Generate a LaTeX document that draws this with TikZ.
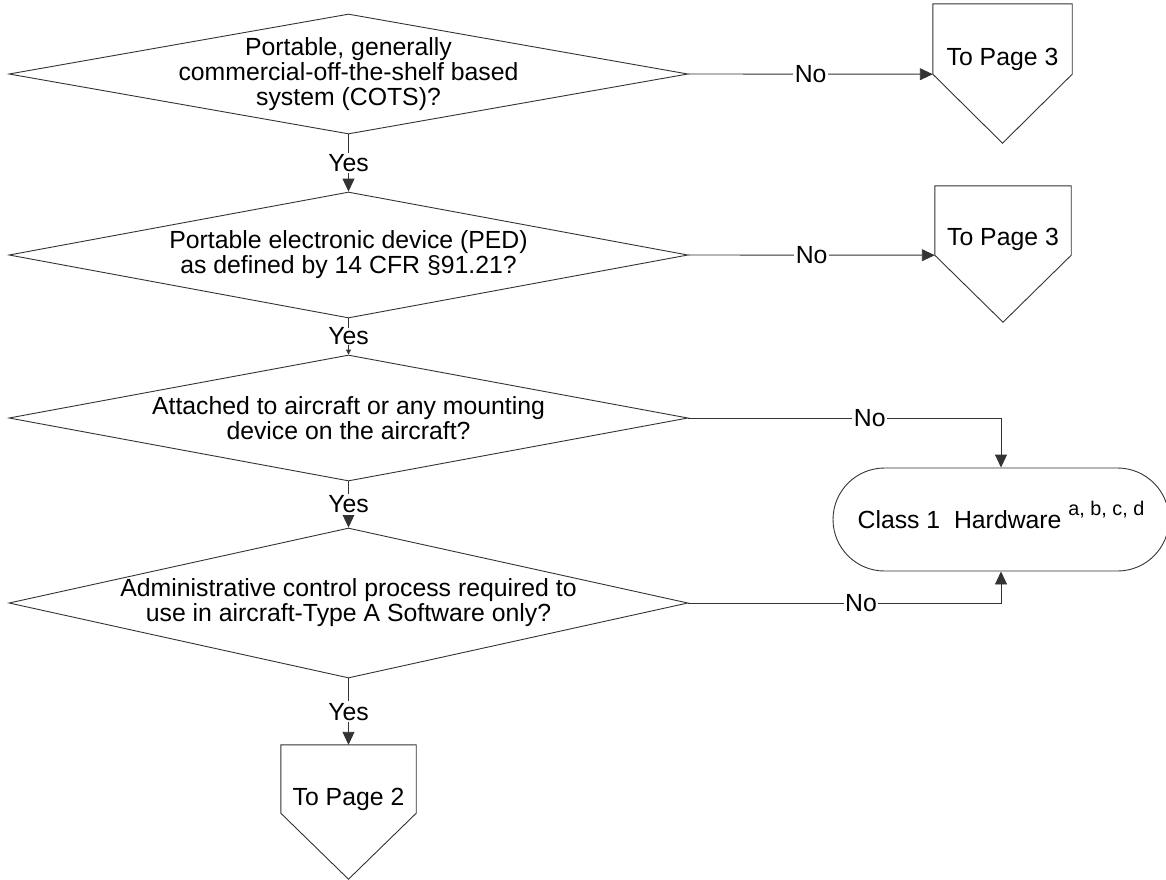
\documentclass[tikz,border=0pt]{standalone}
\usepackage{fontspec}
\setmainfont{Liberation Sans}
\usetikzlibrary{shapes.geometric,arrows.meta,calc}
\begin{document}
\begin{tikzpicture}[x=1pt,y=-1pt,
  every node/.style={font=\fontsize{24.8}{25}\selectfont, text=black},
  decision/.style={draw=black!80, line width=0.9pt, shape=diamond, minimum width=679pt, minimum height=#1, inner sep=0pt},
  qtext/.style={align=center, inner sep=0pt},
  pagebox/.style={rectangle, inner sep=0pt, minimum width=#1},
  outline/.style={draw=black!80, line width=0.9pt},
  lbl/.style={fill=white, inner sep=1.5pt},
  conn/.style={draw=black!80, line width=0.9pt, -{Triangle[length=13pt,width=12pt]}},
  smallconn/.style={draw=black!80, line width=0.9pt, -{Triangle[length=5pt,width=5pt]}},
  terminal/.style={draw=black!80, line width=0.9pt, rectangle, rounded corners=51.5pt, minimum width=336pt, minimum height=103pt, text height=18pt, text depth=0pt}
]
\useasboundingbox (0,0) rectangle (1166,879);

% decisions
\node[decision=120pt] (d1) at (348.5,74) {};
\node[qtext] (d1t) at (d1.center) {Portable, generally\\commercial-off-the-shelf based\\system (COTS)?};
\node[decision=126pt] (d2) at (348.5,255) {};
\node[qtext] (d2t) at (d2.center) {Portable electronic device (PED)\\as defined by 14 CFR §91.21?};
\node[decision=126pt] (d3) at (348.5,418) {};
\node[qtext] (d3t) at (d3.center) {Attached to aircraft or any mounting\\device on the aircraft?};
\node[decision=150pt] (d4) at (348.5,603) {};
\node[qtext] (d4t) at (d4.center) {Administrative control process required to\\use in aircraft-Type A Software only?};

% off-page connectors
\node[pagebox=139pt, minimum height=70pt] (p1) at (1002.5,39) {};
\draw[outline] (p1.south west) -- (p1.north west) -- (p1.north east) -- (p1.south east) -- ($(p1.south)+(0,69)$) -- cycle;
\node[anchor=base, inner sep=0pt] (p1t) at (1002.5,65) {To Page 3};

\node[pagebox=136pt, minimum height=69pt] (p2) at (1003,220.5) {};
\draw[outline] (p2.south west) -- (p2.north west) -- (p2.north east) -- (p2.south east) -- ($(p2.south)+(0,67)$) -- cycle;
\node[anchor=base, inner sep=0pt] (p2t) at (1003,245) {To Page 3};

\node[pagebox=135pt, minimum height=68pt] (p3) at (348.5,779) {};
\draw[outline] (p3.south west) -- (p3.north west) -- (p3.north east) -- (p3.south east) -- ($(p3.south)+(0,66)$) -- cycle;
\node[anchor=base, inner sep=0pt] (p3t) at (348.5,805) {To Page 2};

% terminal
\node[terminal] (term) at (1001,519.5) {Class 1\ \ Hardware \raisebox{13pt}{\fontsize{19.8}{20}\selectfont a, b, c, d}};

% connectors
\draw[conn] (d1.east) -- node[lbl]{No} (p1.south west);
\draw[conn] (d2.east) -- node[lbl]{No} (p2.south west);
\draw[conn] (d1.south) -- node[lbl]{Yes} (d2.north);
\draw[smallconn] (d2.south) -- node[lbl, inner sep=0pt]{Yes} (d3.north);
\draw[conn] (d3.south) -- node[lbl]{Yes} (d4.north);
\draw[conn] (d4.south) -- node[lbl]{Yes} (p3.north);
\draw[conn] (d3.east) -| node[lbl, pos=0.29]{No} (term.north);
\draw[conn] (d4.east) -| node[lbl, pos=0.276]{No} (term.south);
\end{tikzpicture}
\end{document}
